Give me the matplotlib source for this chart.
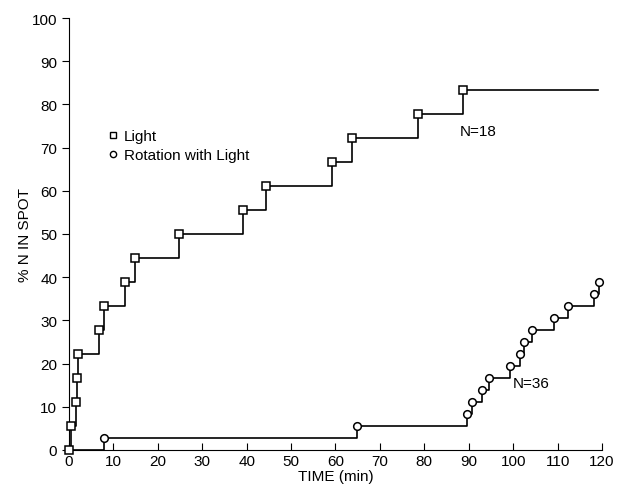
import matplotlib.pyplot as plt
from matplotlib.lines import Line2D

# Light, N=18 (steps of 1/18)
light_time = [0, 0.5, 1.5, 1.8, 2.0, 6.8, 7.9, 12.6, 14.9, 24.8, 39.2, 44.4, 59.2, 63.7, 78.6, 88.7]
light_pct = [0, 5.6, 11.1, 16.7, 22.2, 27.8, 33.3, 38.9, 44.4, 50.0, 55.6, 61.1, 66.7, 72.2, 77.8, 83.3]
light_end = 119

# Rotation with light, N=36 (steps of 1/36)
rot_time = [0, 7.9, 64.9, 89.6, 90.8, 93.0, 94.6, 99.3, 101.6, 102.5, 104.3, 109.2, 112.4, 118.2, 119.4]
rot_pct = [0, 2.8, 5.6, 8.3, 11.1, 13.9, 16.7, 19.4, 22.2, 25.0, 27.8, 30.6, 33.3, 36.1, 38.9]

plt.rcParams['font.family'] = ['Liberation Sans', 'DejaVu Sans']

fig = plt.figure(figsize=(6.19, 4.89), dpi=100)
ax = fig.add_axes([0.1115, 0.078, 0.861, 0.883])

# step lines
ax.plot(light_time + [light_end], light_pct + [light_pct[-1]], drawstyle='steps-post',
        color='black', lw=1.2, clip_on=False)
ax.plot(rot_time, rot_pct, drawstyle='steps-post', color='black', lw=1.2, clip_on=False)

# markers
ax.plot(light_time, light_pct, 's', ms=6, mfc='white', mec='black', mew=1.1,
        linestyle='none', clip_on=False, zorder=3)
ax.plot(rot_time[1:], rot_pct[1:], 'o', ms=5.5, mfc='white', mec='black', mew=1.1,
        linestyle='none', clip_on=False, zorder=3)

ax.set_xlim(0, 120)
ax.set_ylim(0, 100)
ax.set_xticks(range(0, 121, 10))
ax.set_yticks(range(0, 101, 10))
ax.spines['top'].set_visible(False)
ax.spines['right'].set_visible(False)
ax.tick_params(axis='x', direction='in', length=5, labelsize=11, pad=3)
ax.tick_params(axis='y', direction='out', length=5, labelsize=11)

ax.set_xlabel('TIME (min)', fontsize=11, labelpad=1)
ax.set_ylabel('% N IN SPOT', fontsize=11, labelpad=0)

ax.text(88, 73, 'N=18', fontsize=11)
ax.text(100, 14.5, 'N=36', fontsize=11)

handles = [
    Line2D([], [], marker='s', ms=4.5, mfc='white', mec='black', linestyle='none', label='Light'),
    Line2D([], [], marker='o', ms=4.5, mfc='white', mec='black', linestyle='none', label='Rotation with Light'),
]
ax.legend(handles=handles, loc='upper left', bbox_to_anchor=(0.06, 0.76), frameon=False,
          fontsize=11, handlelength=0.6, handletextpad=0.4, labelspacing=0.3, borderpad=0)

fig.savefig('out.png', dpi=100)
